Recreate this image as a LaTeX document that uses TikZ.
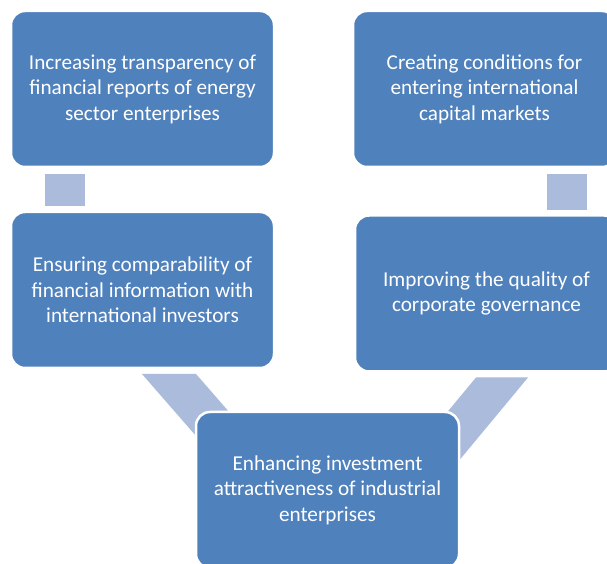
\documentclass[tikz,border=0pt]{standalone}
\usepackage{fontspec}
\setmainfont{Carlito}
\usetikzlibrary{calc,backgrounds}
\definecolor{boxblue}{HTML}{4F81BD}
\definecolor{linkblue}{HTML}{AABBDB}
\begin{document}
\begin{tikzpicture}[x=1pt,y=1pt,
  stagebox/.style={rectangle, rounded corners=14pt, fill=boxblue, draw=white,
    line width=2.5pt, minimum width=263pt, minimum height=156pt, outer sep=0pt,
    inner sep=4pt, align=center, text=white,
    font=\fontsize{21.2}{25.5}\selectfont,
    execute at begin node=\rule{0pt}{21pt}},
  link/.style={fill=linkblue}]
  \useasboundingbox (0,0) rectangle (607,564);

  % the five stages
  \node[stagebox] (tl) at (142.5,475) {Increasing transparency of\\financial reports of energy\\sector enterprises};
  \node[stagebox] (tr) at (484.5,475) {Creating conditions for\\entering international\\capital markets};
  \node[stagebox] (ml) at (142.5,274) {Ensuring comparability of\\financial information with\\international investors};
  \node[stagebox] (mr) at (486.5,270.5) {Improving the quality of\\corporate governance};
  \node[stagebox] (bm) at (327.5,74) {Enhancing investment\\attractiveness of industrial\\enterprises};

  % page and links between the stages, behind the boxes
  \begin{scope}[on background layer]
    \fill[white] (0,0) rectangle (607,564);
    \fill[link] ($(tl.south west)+(34,-7)$) rectangle ($(ml.north west)+(74,6)$);
    \fill[link] ($(tr.south west)+(194,-7)$) rectangle ($(mr.north west)+(232,5)$);
    \fill[link] ($(ml.south west)+(131,-6)$) -- ++(54,0) -- ++(61,-70) -- ++(-54,0) -- cycle;
    \fill[link] ($(mr.south west)+(121,-6)$) -- ++(52,0) -- ++(-83,-100) -- ++(-52,0) -- cycle;
  \end{scope}
\end{tikzpicture}
\end{document}
